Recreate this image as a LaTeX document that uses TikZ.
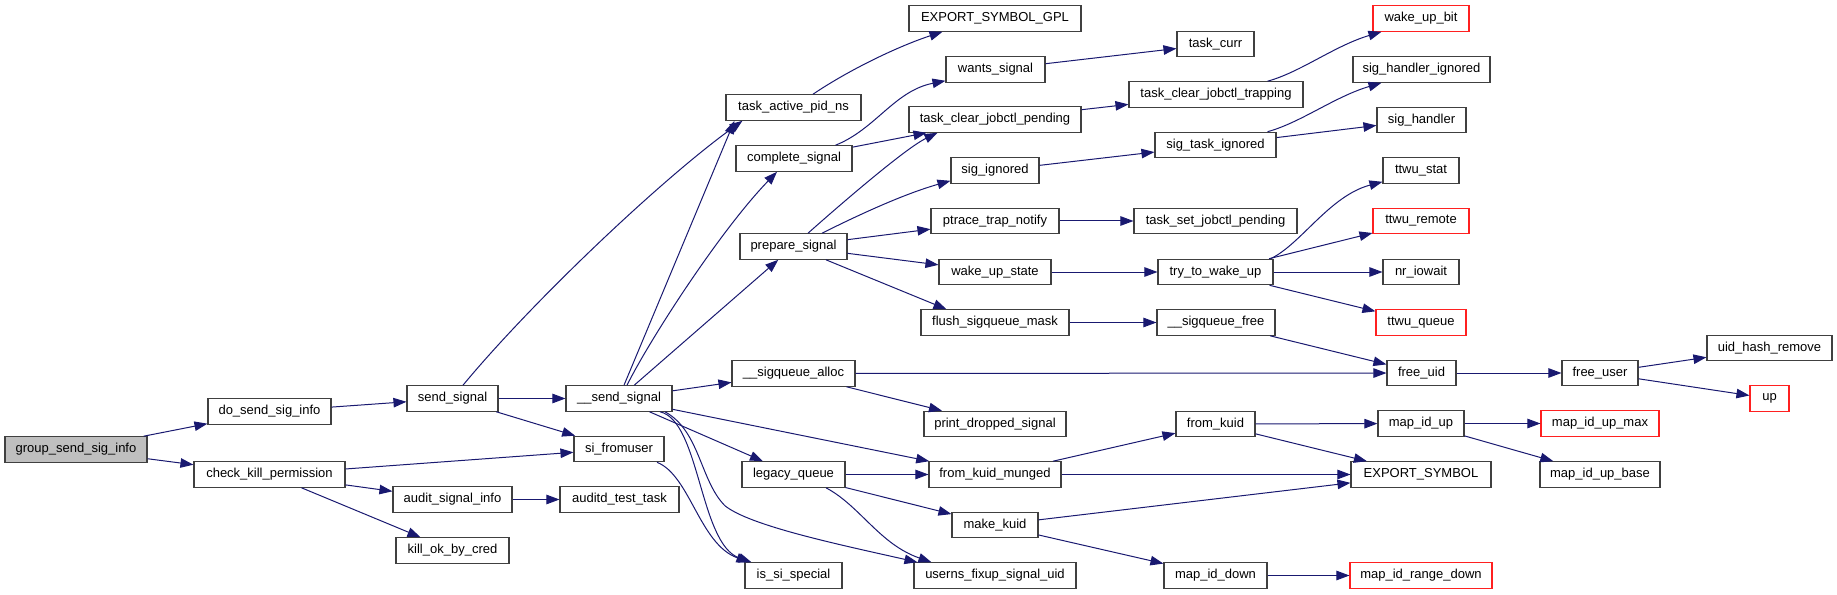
\documentclass[tikz,border=0pt]{standalone}
\usepackage{fontspec}
\setmainfont{Liberation Sans}
\usetikzlibrary{arrows.meta,calc}
\definecolor{edgeblue}{HTML}{191970}
\definecolor{boxline}{HTML}{404040}
\definecolor{rootgray}{HTML}{BFBFBF}
\definecolor{boxred}{HTML}{FF2020}
\newcommand\nodefont{\fontsize{13bp}{15bp}\selectfont}
\tikzset{
  box/.style={draw=boxline, line width=1.1bp, fill=white, rectangle, minimum height=25.5bp, inner sep=0pt, font=\nodefont},
  redbox/.style={box, draw=boxred},
  rootbox/.style={box, fill=rootgray},
  edge/.style={draw=edgeblue, line width=1bp, -{Triangle[length=13bp,width=9.5bp]}},
}
\begin{document}
\begin{tikzpicture}[x=1bp,y=-1bp]
\path[use as bounding box] (0,0) rectangle (1837,595);
% column 1
\node[rootbox, minimum width=142bp] (gssi) at (76,449.5) {group\_send\_sig\_info};
% column 2
\node[box, minimum width=123bp] (dssi) at (269.5,411.5) {do\_send\_sig\_info};
\node[box, minimum width=151bp] (ckp) at (269.5,474.5) {check\_kill\_permission};
% column 3
\node[box, minimum width=91bp] (ss) at (452.5,398.5) {send\_signal};
\node[box, minimum width=119bp] (asi) at (452.5,499.5) {audit\_signal\_info};
\node[box, minimum width=113bp] (kobc) at (452.5,550.5) {kill\_ok\_by\_cred};
% column 4
\node[box, minimum width=106bp] (uss) at (619,398.5) {\_\_send\_signal};
\node[box, minimum width=90bp] (sfu) at (619,449) {si\_fromuser};
\node[box, minimum width=119bp] (att) at (619.5,499.5) {auditd\_test\_task};
% column 5
\node[box, minimum width=135bp] (tapn) at (793.5,107.5) {task\_active\_pid\_ns};
\node[box, minimum width=116bp] (cs) at (794,158.5) {complete\_signal};
\node[box, minimum width=107bp] (ps) at (793.5,246.5) {prepare\_signal};
\node[box, minimum width=123bp] (usa) at (793.5,373.5) {\_\_sigqueue\_alloc};
\node[box, minimum width=103bp] (lq) at (793.5,474.5) {legacy\_queue};
\node[box, minimum width=97bp] (iss) at (793.5,575.5) {is\_si\_special};
% column 6
\node[box, minimum width=172bp] (esg) at (995,18.5) {EXPORT\_SYMBOL\_GPL};
\node[box, minimum width=99bp] (ws) at (995.5,69.5) {wants\_signal};
\node[box, minimum width=172bp] (tcjp) at (995,119.5) {task\_clear\_jobctl\_pending};
\node[box, minimum width=88bp] (sigi) at (995,170.5) {sig\_ignored};
\node[box, minimum width=128bp] (ptn) at (995,221) {ptrace\_trap\_notify};
\node[box, minimum width=112bp] (wus) at (995,272) {wake\_up\_state};
\node[box, minimum width=148bp] (fsm) at (995,322.5) {flush\_sigqueue\_mask};
\node[box, minimum width=142bp] (pds) at (995,424) {print\_dropped\_signal};
\node[box, minimum width=132bp] (fkm) at (995,474.5) {from\_kuid\_munged};
\node[box, minimum width=86bp] (mk) at (995,525) {make\_kuid};
\node[box, minimum width=162bp] (nfsu) at (995,575.5) {userns\_fixup\_signal\_uid};
% column 7
\node[box, minimum width=77bp] (tc) at (1215.5,44) {task\_curr};
\node[box, minimum width=174bp] (tcjt) at (1216,94.5) {task\_clear\_jobctl\_trapping};
\node[box, minimum width=121bp] (sti) at (1215.5,145) {sig\_task\_ignored};
\node[box, minimum width=163bp] (tsjp) at (1215.5,221) {task\_set\_jobctl\_pending};
\node[box, minimum width=115bp] (ttwu) at (1215.5,272) {try\_to\_wake\_up};
\node[box, minimum width=118bp] (usf) at (1216,322.5) {\_\_sigqueue\_free};
\node[box, minimum width=79bp] (fk) at (1215.5,424) {from\_kuid};
\node[box, minimum width=103bp] (mid) at (1215.5,575.5) {map\_id\_down};
% column 8
\node[redbox, minimum width=96bp] (wub) at (1421,18.5) {wake\_up\_bit};
\node[box, minimum width=137bp] (shi) at (1421.5,69.5) {sig\_handler\_ignored};
\node[box, minimum width=89bp] (sh) at (1421.5,120) {sig\_handler};
\node[box, minimum width=76bp] (tst) at (1421,170.5) {ttwu\_stat};
\node[redbox, minimum width=96bp] (trem) at (1421,221) {ttwu\_remote};
\node[box, minimum width=76bp] (nio) at (1421,272) {nr\_iowait};
\node[redbox, minimum width=90bp] (tq) at (1421,322.5) {ttwu\_queue};
\node[box, minimum width=69bp] (fu) at (1421.5,373) {free\_uid};
\node[box, minimum width=86bp] (miu) at (1421,423.5) {map\_id\_up};
\node[box, minimum width=140bp] (es) at (1421,474.5) {EXPORT\_SYMBOL};
\node[redbox, minimum width=142bp] (mird) at (1421,575.5) {map\_id\_range\_down};
% column 9
\node[box, minimum width=76bp] (fuser) at (1600,373) {free\_user};
\node[redbox, minimum width=118bp] (miumax) at (1600,423.5) {map\_id\_up\_max};
\node[box, minimum width=120bp] (miub) at (1600,474.5) {map\_id\_up\_base};
% column 10
\node[box, minimum width=125bp] (uhr) at (1769.5,348) {uid\_hash\_remove};
\node[redbox, minimum width=39bp] (up) at (1769.5,398.5) {up};

% edges
\draw[edge] (gssi) -- (dssi);
\draw[edge] (gssi) -- (ckp);
\draw[edge] (dssi) -- (ss);
\draw[edge] (ckp) -- (sfu);
\draw[edge] (ckp) -- (asi);
\draw[edge] (ckp) -- (kobc);
\draw[edge] ($(ss.north)+(10.5,0)$) .. controls +(67,-81) and +(-83,60) .. ($(tapn.south west)+(17,0)$);
\draw[edge] (ss) -- (uss);
\draw[edge] (ss) -- (sfu);
\draw[edge] (asi) -- (att);
\draw[edge] ($(sfu.south)+(38,0)$) .. controls +(33,13) and +(-50,-18) .. ($(iss.north west)+(5,0)$);
\draw[edge] ($(uss.north)+(5,0)$) -- ($(tapn.south west)+(9,0)$);
\draw[edge] ($(uss.north)+(8,0)$) .. controls +(23,-46) and +(-57,59) .. ($(cs.south)+(-17,0)$);
\draw[edge] (uss) -- (ps);
\draw[edge] (uss) -- (usa);
\draw[edge] (uss) -- (fkm);
\draw[edge] (uss) -- (lq);
\draw[edge] ($(uss.south)+(41,0)$) .. controls +(40,9) and +(-52,-18) .. ($(iss.north west)+(7,0)$);
\draw[edge] ($(uss.south)+(46,0)$) .. controls +(35,19) and +(-25,-25) .. ++(60,94) .. controls +(25,20) and +(-80,-18) .. ($(nfsu.north west)+(4,0)$);
\draw[edge] ($(tapn.north)+(19.5,0)$) .. controls +(37,-25) and +(-43,14) .. ($(esg.south west)+(34,0)$);
\draw[edge] ($(cs.north east)+(-17,0)$) .. controls +(40,-16) and +(-51,10) .. ($(ws.south west)+(0,-2)$);
\draw[edge] (cs) -- (tcjp);
\draw[edge] ($(ps.north)+(14.5,0)$) .. controls +(27,-24) and +(-33,16) .. ($(tcjp.south west)+(29,0)$);
\draw[edge] ($(ps.north)+(28.5,0)$) .. controls +(38,-19) and +(-46,13) .. ($(sigi.south west)+(0,-3)$);
\draw[edge] (ps) -- (ptn);
\draw[edge] (ps) -- (wus);
\draw[edge] (ps) -- ($(fsm.north west)+(26,0)$);
\draw[edge] (usa) -- (fu);
\draw[edge] (usa) -- (pds);
\draw[edge] (lq) -- (fkm);
\draw[edge] (lq) -- (mk);
\draw[edge] ($(lq.south)+(32.5,0)$) .. controls +(34,18) and +(-52,-18) .. ($(nfsu.north west)+(18,0)$);
\draw[edge] (ws) -- (tc);
\draw[edge] (tcjp) -- (tcjt);
\draw[edge] (sigi) -- (sti);
\draw[edge] (ptn) -- (tsjp);
\draw[edge] (wus) -- (ttwu);
\draw[edge] (fsm) -- (usf);
\draw[edge] (fkm) -- (fk);
\draw[edge] (fkm) -- (es);
\draw[edge] (mk) -- (es);
\draw[edge] (mk) -- (mid);
\draw[edge] ($(tcjt.north east)+(-36,0)$) .. controls +(33,-9) and +(-47,14) .. ($(wub.south west)+(9,0)$);
\draw[edge] ($(sti.north east)+(-9,0)$) .. controls +(33,-9) and +(-47,14) .. ($(shi.south west)+(29,0)$);
\draw[edge] (sti) -- (sh);
\draw[edge] ($(ttwu.north east)+(-3,0)$) .. controls +(30,-14) and +(-53,14) .. ($(tst.south west)+(0,-2)$);
\draw[edge] (ttwu) -- (trem);
\draw[edge] (ttwu) -- (nio);
\draw[edge] (ttwu) -- (tq);
\draw[edge] (usf) -- (fu);
\draw[edge] (fk) -- (miu);
\draw[edge] (fk) -- (es);
\draw[edge] (mid) -- (mird);
\draw[edge] (fu) -- (fuser);
\draw[edge] (fuser) -- (uhr);
\draw[edge] (fuser) -- (up);
\draw[edge] (miu) -- (miumax);
\draw[edge] (miu) -- (miub);
\end{tikzpicture}
\end{document}
